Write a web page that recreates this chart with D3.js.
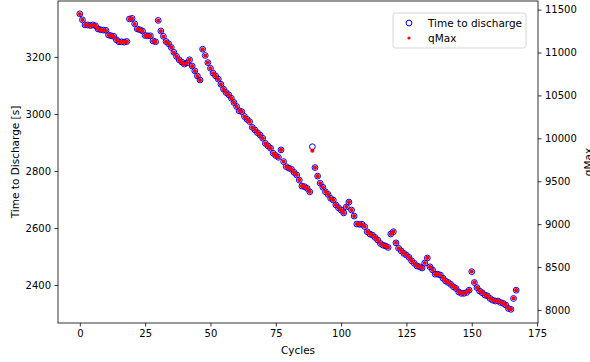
<!DOCTYPE html>
<html>
<head>
<meta charset="utf-8">
<script src="https://cdn.jsdelivr.net/npm/d3@7"></script>
<style>
  body { margin: 0; background: #fff; }
  svg { display: block; font-family: "DejaVu Sans", sans-serif; }
</style>
</head>
<body>
<div id="chart"></div>
<script>
// time to discharge [s], one value per cycle (0..167)
const timeToDischarge = [
  3351, 3330, 3312, 3312, 3310, 3312, 3309, 3298, 3295, 3294,
  3293, 3277, 3274, 3272, 3260, 3253, 3253, 3252, 3254, 3333,
  3335, 3316, 3298, 3295, 3291, 3275, 3274, 3274, 3256, 3253,
  3328, 3291, 3272, 3254, 3246, 3233, 3216, 3202, 3190, 3182,
  3175, 3179, 3190, 3168, 3151, 3133, 3119, 3227, 3205, 3180,
  3160, 3143, 3133, 3122, 3104, 3087, 3075, 3067, 3055, 3040,
  3026, 3011, 3008, 2991, 2981, 2973, 2953, 2944, 2934, 2926,
  2915, 2897, 2888, 2880, 2862, 2854, 2848, 2874, 2833, 2815,
  2810, 2806, 2795, 2786, 2768, 2747, 2745, 2739, 2727, 2885,
  2812, 2782, 2757, 2743, 2727, 2718, 2704, 2698, 2681, 2671,
  2663, 2653, 2674, 2691, 2663, 2642, 2614, 2613, 2613, 2605,
  2587, 2579, 2575, 2567, 2558, 2546, 2540, 2537, 2532, 2579,
  2587, 2548, 2529, 2520, 2511, 2505, 2497, 2485, 2476, 2467,
  2464, 2460, 2477, 2495, 2464, 2453, 2438, 2438, 2435, 2424,
  2414, 2409, 2402, 2394, 2388, 2376, 2371, 2371, 2374, 2382,
  2447, 2409, 2391, 2379, 2373, 2365, 2362, 2353, 2347, 2344,
  2344, 2339, 2336, 2330, 2318, 2315, 2353, 2382
];

// qMax per cycle
const qMax = [
  11448, 11379, 11319, 11319, 11312, 11319, 11309, 11272, 11262, 11259,
  11256, 11203, 11193, 11186, 11146, 11123, 11123, 11120, 11126, 11389,
  11395, 11332, 11272, 11262, 11249, 11196, 11193, 11193, 11133, 11123,
  11372, 11249, 11186, 11126, 11100, 11057, 11000, 10954, 10914, 10887,
  10864, 10877, 10914, 10841, 10784, 10725, 10678, 11037, 10964, 10881,
  10814, 10758, 10725, 10688, 10628, 10572, 10532, 10505, 10466, 10416,
  10369, 10320, 10310, 10253, 10220, 10193, 10127, 10097, 10064, 10037,
  10001, 9941, 9911, 9885, 9825, 9798, 9778, 9865, 9729, 9669,
  9652, 9639, 9602, 9573, 9513, 9443, 9436, 9416, 9377, 9856,
  9659, 9559, 9476, 9430, 9377, 9347, 9300, 9280, 9224, 9191,
  9164, 9131, 9201, 9257, 9164, 9094, 9001, 8998, 8998, 8972,
  8912, 8885, 8872, 8845, 8816, 8776, 8756, 8746, 8729, 8885,
  8912, 8782, 8719, 8689, 8660, 8640, 8613, 8573, 8543, 8513,
  8503, 8490, 8547, 8606, 8503, 8467, 8417, 8417, 8407, 8371,
  8337, 8321, 8298, 8271, 8251, 8211, 8195, 8195, 8205, 8231,
  8447, 8321, 8261, 8221, 8201, 8175, 8165, 8135, 8115, 8105,
  8105, 8088, 8079, 8059, 8019, 8009, 8135, 8231
];

const cycles = timeToDischarge.map((d, i) => i);

const xTicks = [0, 25, 50, 75, 100, 125, 150, 175];
const leftTicks = [2400, 2600, 2800, 3000, 3200];
const rightTicks = [8000, 8500, 9000, 9500, 10000, 10500, 11000, 11500];

const width = 590;
const height = 362;
const margin = { top: 1, right: 52, bottom: 39, left: 58 };

const svg = d3
  .select("#chart")
  .append("svg")
  .attr("width", width)
  .attr("height", height);

// matplotlib style 5% padding
const xPad = (d3.max(cycles) - d3.min(cycles)) * 0.05;
const xScale = d3
  .scaleLinear()
  .domain([d3.min(cycles) - xPad, d3.max(cycles) + xPad])
  .range([margin.left, width - margin.right]);

const yLeft = d3
  .scaleLinear()
  .domain([2267, 3396])
  .range([height - margin.bottom, margin.top]);

const yRight = d3
  .scaleLinear()
  .domain([7848, 11600])
  .range([height - margin.bottom, margin.top]);

const tickFont = "10px";

function styleAxis(g) {
  g.selectAll("path").attr("stroke", "#000").attr("stroke-width", 0.8);
  g.selectAll("line").attr("stroke", "#000").attr("stroke-width", 0.8);
  g.selectAll("text")
    .attr("fill", "#000")
    .style("font-size", tickFont)
    .style("font-family", "DejaVu Sans");
}

// points: blue open circles (time), red dots (qMax) on top
svg
  .append("g")
  .selectAll("circle")
  .data(cycles)
  .enter()
  .append("circle")
  .attr("cx", (d) => xScale(d))
  .attr("cy", (d) => yLeft(timeToDischarge[d]))
  .attr("r", 2.9)
  .attr("fill", "none")
  .attr("stroke", "#0000ff")
  .attr("stroke-width", 1);

svg
  .append("g")
  .selectAll("circle")
  .data(cycles)
  .enter()
  .append("circle")
  .attr("cx", (d) => xScale(d))
  .attr("cy", (d) => yRight(qMax[d]))
  .attr("r", 2.1)
  .attr("fill", "#ff0000");

// frame
svg
  .append("rect")
  .attr("x", margin.left)
  .attr("y", margin.top)
  .attr("width", width - margin.right - margin.left)
  .attr("height", height - margin.bottom - margin.top)
  .attr("fill", "none")
  .attr("stroke", "#000")
  .attr("stroke-width", 0.8);

const xAxis = svg
  .append("g")
  .attr("transform", `translate(0,${height - margin.bottom})`)
  .call(d3.axisBottom(xScale).tickValues(xTicks).tickSize(3.5).tickPadding(3.5));
styleAxis(xAxis);
xAxis.select(".domain").remove();

const leftAxis = svg
  .append("g")
  .attr("transform", `translate(${margin.left},0)`)
  .call(d3.axisLeft(yLeft).tickValues(leftTicks).tickSize(3.5).tickPadding(3.5).tickFormat(d3.format("d")));
styleAxis(leftAxis);
leftAxis.select(".domain").remove();

const rightAxis = svg
  .append("g")
  .attr("transform", `translate(${width - margin.right},0)`)
  .call(d3.axisRight(yRight).tickValues(rightTicks).tickSize(3.5).tickPadding(3.5).tickFormat(d3.format("d")));
styleAxis(rightAxis);
rightAxis.select(".domain").remove();

// axis labels
svg
  .append("text")
  .attr("x", (margin.left + width - margin.right) / 2)
  .attr("y", 354)
  .attr("text-anchor", "middle")
  .style("font-size", "10.5px")
  .text("Cycles");

svg
  .append("text")
  .attr("transform", `translate(19,${(margin.top + height - margin.bottom) / 2}) rotate(-90)`)
  .attr("text-anchor", "middle")
  .style("font-size", "10.5px")
  .text("Time to Discharge [s]");

svg
  .append("text")
  .attr("transform", `translate(592,${(margin.top + height - margin.bottom) / 2}) rotate(-90)`)
  .attr("text-anchor", "middle")
  .style("font-size", "10.5px")
  .text("qMax");

// legend
const legend = svg.append("g").attr("transform", "translate(393,13)");
legend
  .append("rect")
  .attr("width", 133)
  .attr("height", 35)
  .attr("rx", 2.5)
  .attr("fill", "#fff")
  .attr("fill-opacity", 0.8)
  .attr("stroke", "#cccccc")
  .attr("stroke-width", 0.8);

legend
  .append("circle")
  .attr("cx", 16)
  .attr("cy", 10)
  .attr("r", 2.9)
  .attr("fill", "none")
  .attr("stroke", "#0000ff")
  .attr("stroke-width", 1);
legend
  .append("text")
  .attr("x", 35)
  .attr("y", 13.5)
  .style("font-size", "10.5px")
  .text("Time to discharge");

legend
  .append("circle")
  .attr("cx", 16)
  .attr("cy", 25)
  .attr("r", 1.6)
  .attr("fill", "#ff0000");
legend
  .append("text")
  .attr("x", 35)
  .attr("y", 28.5)
  .style("font-size", "10.5px")
  .text("qMax");
</script>
</body>
</html>
